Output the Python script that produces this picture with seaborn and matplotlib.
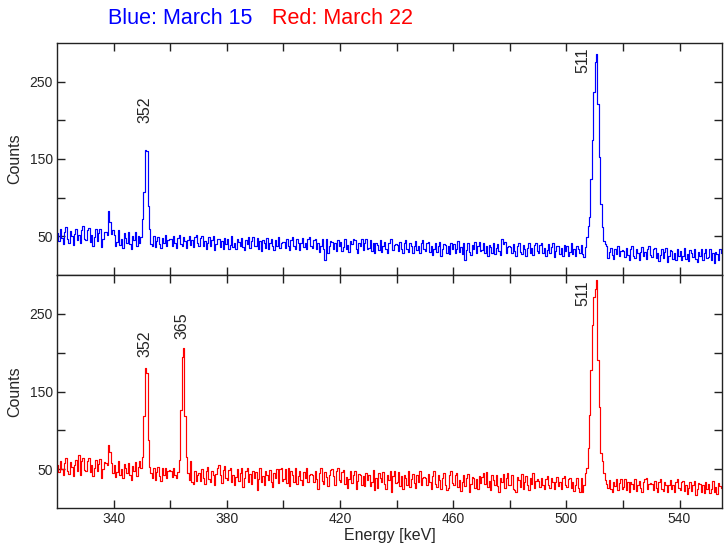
import matplotlib
matplotlib.use("Agg")
import matplotlib.pyplot as plt
import numpy as np
import pandas as pd
import seaborn as sns
from matplotlib.ticker import FixedLocator

# spectra, 0.5 keV bins starting at 320 keV (one line = 10 keV)
bin_start = 320.0
bin_width = 0.5

blue_counts = [
    54, 44, 59, 48, 40, 56, 62, 46, 42, 57, 51, 39, 53, 60, 45, 52, 41, 58, 63, 47,
    45, 58, 61, 43, 52, 38, 49, 59, 44, 54, 60, 36, 47, 56, 55, 52, 83, 68, 53, 58,
    52, 37, 43, 58, 39, 47, 35, 54, 48, 42, 55, 40, 33, 51, 45, 56, 38, 50, 41, 49,
    73, 107, 162, 160, 89, 59, 40, 38, 51, 36, 44, 49, 40, 35, 48, 41, 52, 38, 45, 46,
    46, 38, 50, 41, 35, 48, 52, 40, 37, 49, 44, 35, 45, 51, 39, 45, 36, 49, 52, 41,
    38, 48, 50, 37, 44, 33, 41, 49, 37, 45, 50, 32, 40, 47, 46, 36, 44, 34, 48, 40,
    46, 34, 39, 50, 36, 42, 33, 47, 43, 38, 48, 36, 32, 45, 40, 49, 35, 44, 49, 37,
    38, 48, 34, 44, 31, 45, 42, 35, 48, 33, 41, 46, 37, 32, 45, 38, 49, 35, 42, 43,
    43, 35, 47, 38, 32, 45, 49, 37, 34, 46, 41, 32, 42, 48, 36, 42, 33, 46, 49, 38,
    35, 45, 47, 34, 41, 30, 38, 46, 34, 20, 47, 29, 37, 44, 43, 33, 41, 31, 45, 37,
    43, 31, 36, 47, 33, 39, 30, 44, 40, 47, 45, 33, 29, 42, 37, 46, 32, 41, 46, 34,
    35, 45, 31, 41, 28, 42, 39, 32, 45, 30, 38, 43, 34, 29, 42, 47, 46, 32, 39, 40,
    39, 31, 43, 34, 28, 41, 45, 33, 30, 42, 37, 28, 38, 44, 32, 38, 29, 42, 45, 34,
    31, 41, 43, 30, 37, 26, 34, 42, 30, 38, 43, 25, 33, 40, 39, 29, 37, 27, 41, 33,
    40, 28, 33, 44, 30, 36, 27, 41, 20, 32, 42, 30, 26, 39, 34, 43, 29, 38, 43, 31,
    32, 42, 28, 38, 25, 39, 36, 29, 42, 27, 35, 40, 31, 26, 47, 40, 43, 29, 36, 37,
    36, 28, 40, 31, 25, 38, 42, 30, 27, 39, 34, 25, 35, 41, 29, 35, 26, 39, 42, 31,
    29, 39, 41, 28, 35, 24, 32, 40, 28, 36, 41, 23, 31, 38, 37, 27, 35, 25, 39, 31,
    37, 25, 30, 41, 27, 33, 24, 38, 34, 29, 39, 27, 23, 36, 49, 64, 75, 124, 175, 236,
    276, 286, 221, 152, 92, 62, 44, 40, 37, 22, 30, 35, 26, 21, 34, 27, 38, 24, 31, 32,
    31, 23, 35, 26, 20, 33, 37, 25, 22, 34, 29, 20, 30, 36, 24, 30, 21, 34, 37, 26,
    23, 33, 35, 22, 29, 18, 26, 34, 22, 30, 35, 17, 25, 32, 31, 21, 29, 19, 33, 25,
    31, 19, 24, 35, 21, 27, 18, 32, 28, 23, 33, 21, 17, 30, 25, 34, 20, 29, 34, 22,
    23, 33, 19, 29, 16, 30, 27, 20, 33, 28,
]

red_counts = [
    56, 46, 61, 50, 42, 58, 64, 48, 44, 59, 53, 41, 55, 62, 47, 68, 43, 60, 65, 49,
    48, 61, 64, 46, 55, 41, 52, 62, 47, 57, 63, 39, 50, 59, 58, 56, 81, 72, 58, 45,
    55, 40, 46, 61, 42, 50, 38, 57, 51, 45, 58, 43, 36, 54, 48, 59, 41, 53, 60, 52,
    66, 118, 180, 174, 88, 53, 45, 39, 51, 36, 46, 53, 41, 35, 51, 43, 52, 38, 47, 49,
    47, 40, 51, 43, 39, 46, 62, 126, 195, 206, 118, 66, 45, 36, 60, 33, 31, 48, 35, 42,
    45, 35, 50, 39, 31, 47, 53, 37, 33, 48, 42, 30, 44, 51, 55, 43, 32, 49, 54, 38,
    36, 49, 52, 34, 43, 29, 40, 50, 35, 45, 51, 27, 38, 47, 51, 33, 44, 31, 48, 39,
    46, 23, 37, 52, 33, 41, 29, 48, 42, 36, 49, 34, 27, 45, 39, 50, 32, 50, 51, 35,
    37, 50, 32, 52, 28, 47, 43, 34, 51, 31, 41, 48, 36, 30, 46, 38, 52, 33, 42, 44,
    43, 33, 48, 37, 25, 45, 51, 35, 31, 46, 40, 28, 42, 49, 50, 41, 30, 47, 52, 36,
    33, 46, 49, 31, 40, 26, 37, 47, 32, 42, 48, 24, 35, 44, 43, 30, 41, 28, 45, 36,
    43, 28, 34, 49, 23, 38, 26, 45, 39, 33, 46, 31, 24, 42, 36, 47, 21, 41, 48, 32,
    33, 46, 28, 41, 24, 43, 39, 30, 47, 27, 37, 44, 32, 26, 42, 34, 48, 29, 38, 40,
    39, 29, 44, 33, 25, 41, 47, 31, 27, 42, 36, 24, 38, 45, 30, 23, 26, 43, 48, 32,
    29, 42, 45, 27, 36, 22, 33, 43, 28, 38, 44, 20, 31, 40, 39, 26, 37, 24, 41, 32,
    40, 45, 31, 46, 27, 35, 23, 42, 36, 30, 43, 28, 21, 39, 33, 44, 26, 38, 45, 29,
    30, 43, 25, 23, 21, 40, 36, 27, 44, 24, 34, 41, 29, 23, 39, 31, 45, 26, 35, 37,
    35, 27, 39, 30, 24, 37, 41, 29, 26, 38, 33, 24, 34, 40, 28, 34, 25, 38, 41, 30,
    27, 37, 39, 26, 33, 22, 30, 38, 26, 20, 39, 21, 29, 45, 52, 77, 120, 178, 235, 272,
    282, 294, 190, 130, 71, 60, 45, 36, 31, 26, 36, 24, 20, 33, 28, 37, 23, 32, 37, 25,
    27, 37, 23, 33, 20, 34, 31, 24, 37, 22, 30, 35, 26, 21, 34, 37, 38, 24, 31, 32,
    31, 23, 35, 26, 20, 33, 37, 25, 22, 34, 29, 20, 30, 36, 24, 30, 21, 34, 37, 26,
    23, 33, 35, 22, 29, 18, 26, 34, 22, 30, 35, 17, 25, 32, 31, 21, 29, 19, 33, 25,
    31, 19, 24, 35, 21, 27, 18, 32, 28, 26,
]

# peak labels: (text, energy, counts at bottom of text)
blue_peaks = [("352", 351.1, 197), ("511", 505.7, 261)]
red_peaks = [("352", 351.1, 195), ("365", 364.0, 217), ("511", 505.7, 260)]

x_ticks = [340, 380, 420, 460, 500, 540]
y_ticks = [50, 150, 250]

# step edges: repeat last value so the final bin is drawn
n = len(blue_counts)
edges = bin_start + bin_width * np.arange(n + 1)
df = pd.DataFrame({
    "energy": edges,
    "blue": blue_counts + [blue_counts[-1]],
    "red": red_counts + [red_counts[-1]],
})

sns.set_style("ticks")
plt.rcParams["font.family"] = ["Liberation Sans", "DejaVu Sans"]
plt.rcParams["axes.linewidth"] = 1.0

fig = plt.figure(figsize=(7.24, 5.46), dpi=100)
left, right = 57 / 724, 722 / 724
ax_top = fig.add_axes([left, (546 - 275) / 546, right - left, (275 - 43) / 546])
ax_bot = fig.add_axes([left, (546 - 508) / 546, right - left, (508 - 275) / 546],
                      sharex=ax_top)

panels = [(ax_top, "blue", "blue", blue_peaks), (ax_bot, "red", "red", red_peaks)]
for ax, col, color, peaks in panels:
    sns.lineplot(data=df, x="energy", y=col, ax=ax, color=color, lw=0.85,
                 drawstyle="steps-post", estimator=None)
    ax.set_xlim(320, 555)
    ax.set_ylim(0, 300)
    ax.set_ylabel("Counts", fontsize=11.5, labelpad=5)
    ax.xaxis.set_major_locator(FixedLocator(x_ticks))
    ax.xaxis.set_minor_locator(FixedLocator([360, 400, 440, 480, 520]))
    ax.yaxis.set_major_locator(FixedLocator(y_ticks))
    ax.yaxis.set_minor_locator(FixedLocator([100, 200]))
    ax.tick_params(which="both", direction="in", top=True, right=True,
                   length=5.5, width=1.0, color="#222222", labelsize=10, pad=3)
    for spine in ax.spines.values():
        spine.set_color("#222222")
    for txt, e, c in peaks:
        ax.text(e, c, txt, rotation=90, ha="center", va="bottom", fontsize=11.5)

ax_top.tick_params(labelbottom=False)
ax_top.set_xlabel("")
ax_bot.set_xlabel("Energy [keV]", fontsize=11.5, labelpad=1)

fig.text(180.5 / 724, 1 - 18 / 546, "Blue: March 15", color="blue", fontsize=15.5,
         ha="center", va="center")
fig.text(342 / 724, 1 - 18 / 546, "Red: March 22", color="red", fontsize=15.5,
         ha="center", va="center")

fig.savefig("out.png", dpi=100)
